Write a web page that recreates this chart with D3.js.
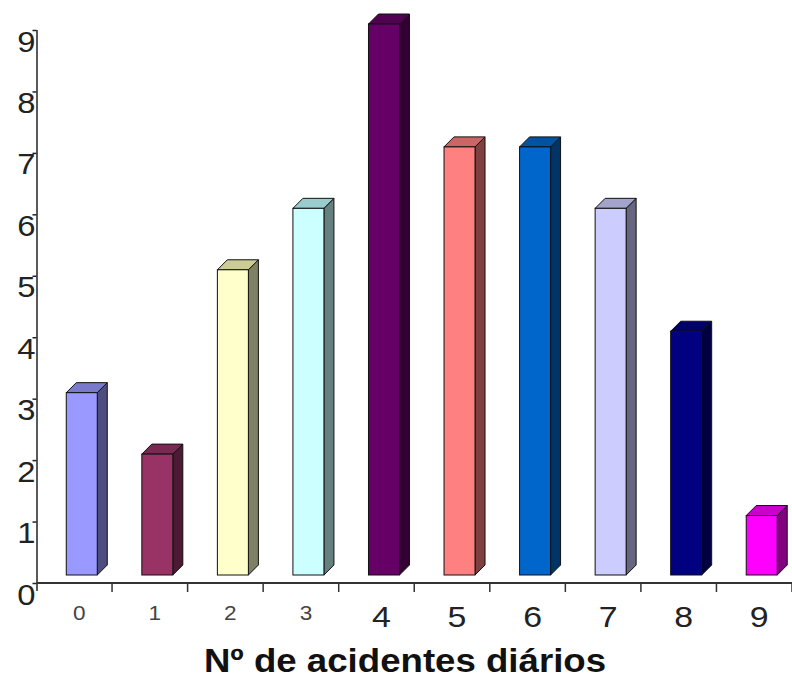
<!DOCTYPE html>
<html>
<head>
<meta charset="utf-8">
<script src="https://cdn.jsdelivr.net/npm/d3@7/dist/d3.min.js"></script>
<style>
  html, body { margin: 0; padding: 0; background: #fff; }
  svg { display: block; font-family: "Liberation Sans", Arial, sans-serif; }
</style>
</head>
<body>
<svg id="chart" width="792" height="678"></svg>
<script>
// Number of daily accidents (x) and how many days had that count (y)
const categories = ["0", "1", "2", "3", "4", "5", "6", "7", "8", "9"];
const values = [3, 2, 5, 6, 9, 7, 7, 6, 4, 1];
const yTicks = [0, 1, 2, 3, 4, 5, 6, 7, 8, 9];
const xTitle = "Nº de acidentes diários";

// Face colours of each column: front, right side, top
const frontColors = ["#9999ff", "#993366", "#ffffcc", "#ccffff", "#660066", "#ff8080", "#0066cc", "#ccccff", "#000080", "#ff00ff"];
const sideColors  = ["#4d4d80", "#4d1a33", "#808066", "#668080", "#330033", "#804040", "#003366", "#666680", "#000040", "#800080"];
const topColors   = ["#7a7acc", "#7a2952", "#cccc99", "#99cccc", "#520052", "#cc6666", "#0052a3", "#a3a3cc", "#000066", "#cc00cc"];

const svg = d3.select("#chart");
const sx = 1.13; // horizontal stretch of the lettering

const x = d3.scaleBand().domain(categories).range([36.5, 792]).padding(0);
const y = d3.scaleLinear().domain([0, 9]).range([583, 30]);
const bw = x.bandwidth();

const depth = 10, frontW = 31, baseY = y(0) - 8;

// Columns drawn as three faces each
const bars = svg.append("g").selectAll("g").data(categories).join("g");
bars.each(function (c, i) {
  const g = d3.select(this);
  const x0 = x(c) + bw / 2 - 8, x1 = x0 + frontW;
  const yt = y(values[i]) - 6;
  g.append("path")
    .attr("d", `M${x1},${yt}L${x1 + depth},${yt - depth}L${x1 + depth},${baseY - depth}L${x1},${baseY}Z`)
    .attr("fill", sideColors[i]).attr("stroke", "#111").attr("stroke-width", 1).attr("stroke-linejoin", "round");
  g.append("path")
    .attr("d", `M${x0},${yt}L${x0 + depth},${yt - depth}L${x1 + depth},${yt - depth}L${x1},${yt}Z`)
    .attr("fill", topColors[i]).attr("stroke", "#111").attr("stroke-width", 1).attr("stroke-linejoin", "round");
  g.append("rect")
    .attr("x", x0).attr("y", yt).attr("width", frontW).attr("height", baseY - yt)
    .attr("fill", frontColors[i]).attr("stroke", "#111").attr("stroke-width", 1);
});

// Y axis
const yAxis = svg.append("g").attr("transform", "translate(36.5,0)")
  .call(d3.axisLeft(y).tickValues(yTicks).tickSize(4).tickSizeOuter(0).tickFormat(d3.format("d")));
yAxis.select(".domain").attr("stroke", "#222").attr("stroke-width", 1.5).attr("d", `M0.5,${y(9)}V${y(0) + 8}`);
yAxis.selectAll(".tick line").attr("stroke", "#222").attr("stroke-width", 1.5);
yAxis.selectAll(".tick text")
  .attr("x", null).attr("dy", null)
  .attr("font-size", 29).attr("font-family", "Liberation Sans, Arial, sans-serif")
  .attr("fill", "#222").attr("text-anchor", "end")
  .attr("transform", `translate(-1,21) scale(${sx},1)`);

// X axis: line, ticks at the column boundaries, centred labels
const xAxis = svg.append("g").attr("transform", `translate(0,${y(0)})`)
  .call(d3.axisBottom(x).tickSize(0).tickPadding(0));
xAxis.select(".domain").attr("stroke", "#333").attr("stroke-width", 2).attr("d", `M${x.range()[0]},0H${x.range()[1]}`);
xAxis.selectAll(".tick text").remove();
xAxis.selectAll(".bound").data(categories).join("line")
  .attr("class", "bound")
  .attr("x1", d => x(d) + bw).attr("x2", d => x(d) + bw)
  .attr("y1", 0).attr("y2", 9)
  .attr("stroke", "#333").attr("stroke-width", 1.5);

svg.append("g").selectAll("text").data(categories).join("text")
  .attr("transform", (d, i) => `translate(${x(d) + bw / 2 + 5},${i < 4 ? 620 : 627}) scale(${sx},1)`)
  .attr("text-anchor", "middle")
  .attr("font-size", (d, i) => i < 4 ? 20 : 30)
  .attr("fill", (d, i) => i < 4 ? "#444" : "#222")
  .text(d => d);

// Axis title
svg.append("text")
  .attr("transform", `translate(405,672) scale(1.11,1)`)
  .attr("text-anchor", "middle")
  .attr("font-size", 33).attr("font-weight", "bold").attr("fill", "#111")
  .text(xTitle);
</script>
</body>
</html>
